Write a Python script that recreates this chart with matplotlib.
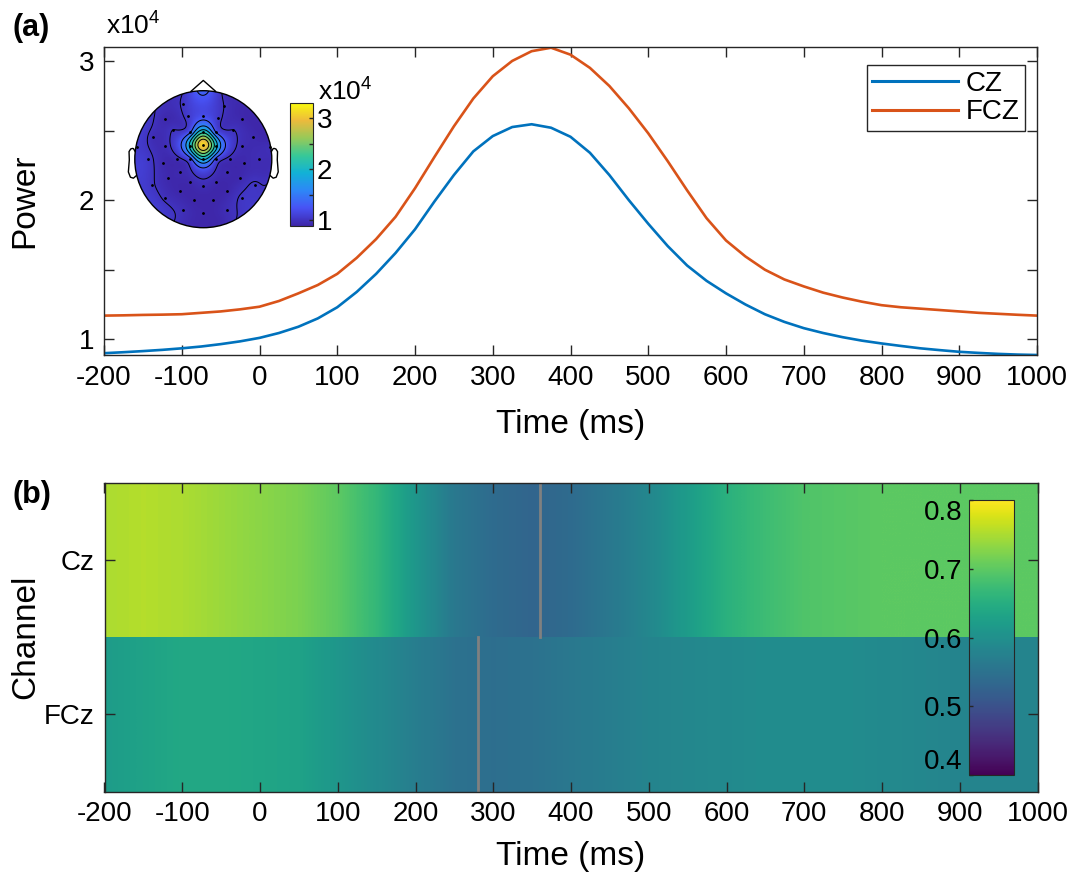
import numpy as np
import matplotlib
matplotlib.use('Agg')
import matplotlib.pyplot as plt
from matplotlib.colors import LinearSegmentedColormap
from matplotlib.patches import Circle

plt.rcParams['font.family'] = ['Liberation Sans', 'DejaVu Sans']
plt.rcParams['mathtext.default'] = 'regular'
plt.rcParams['axes.unicode_minus'] = False

# Data ==================================================
# (a) power time course, x1e4
power_t = list(range(-200, 1001, 25))
power_cz = [0.900, 0.907, 0.915, 0.924, 0.935, 0.948, 0.965, 0.985, 1.01, 1.045,
            1.09, 1.15, 1.23, 1.34, 1.47, 1.62, 1.79, 1.99, 2.18, 2.35,
            2.46, 2.525, 2.545, 2.52, 2.455, 2.34, 2.18, 2.00, 1.83, 1.67,
            1.53, 1.42, 1.33, 1.25, 1.18, 1.125, 1.08, 1.045, 1.015, 0.99,
            0.97, 0.952, 0.935, 0.922, 0.91, 0.902, 0.895, 0.89, 0.887]
power_fcz = [1.17, 1.172, 1.175, 1.177, 1.18, 1.19, 1.20, 1.215, 1.234, 1.275,
             1.33, 1.39, 1.47, 1.585, 1.72, 1.88, 2.085, 2.31, 2.53, 2.73,
             2.89, 3.00, 3.07, 3.095, 3.045, 2.95, 2.82, 2.66, 2.48, 2.28,
             2.07, 1.87, 1.71, 1.595, 1.50, 1.43, 1.38, 1.335, 1.30, 1.27,
             1.245, 1.23, 1.22, 1.21, 1.20, 1.19, 1.183, 1.176, 1.17]

# topography (electrode positions on unit head, power x1e4)
elec_x = [-0.30, 0.30,
          -0.56, -0.23, 0.00, 0.22, 0.57,
          -0.73, -0.44, -0.19, 0.00, 0.19, 0.44, 0.73,
          -0.97, -0.56, -0.19, 0.00, 0.19, 0.57, 0.97,
          -0.80, -0.59, -0.38, -0.19, 0.00, 0.19, 0.39, 0.59, 0.81,
          -0.51, -0.34, 0.34, 0.53,
          -0.75, -0.19, 0.00, 0.19, 0.75,
          -0.56, -0.34, -0.14, 0.14, 0.35, 0.56,
          -0.29, 0.00, 0.35]
elec_y = [0.80, 0.77,
          0.59, 0.63, 0.63, 0.60, 0.59,
          0.33, 0.43, 0.40, 0.40, 0.40, 0.43, 0.33,
          0.18, 0.19, 0.20, 0.21, 0.20, 0.19, 0.18,
          0.01, -0.05, 0.01, 0.00, 0.00, 0.00, 0.01, -0.05, 0.01,
          -0.28, -0.18, -0.18, -0.28,
          -0.38, -0.34, -0.39, -0.34, -0.38,
          -0.57, -0.47, -0.59, -0.59, -0.47, -0.57,
          -0.74, -0.79, -0.74]
elec_val = [1.02, 1.00,
            0.92, 1.05, 1.20, 1.05, 0.92,
            0.95, 1.00, 1.25, 2.10, 1.25, 1.00, 0.93,
            1.05, 0.95, 2.00, 3.15, 2.00, 0.95, 0.96,
            1.04, 0.93, 0.96, 1.20, 1.95, 1.20, 0.96, 0.92, 0.95,
            0.92, 0.93, 0.93, 0.92,
            1.02, 0.92, 0.95, 0.92, 1.02,
            0.98, 0.91, 0.90, 0.90, 0.91, 1.02,
            0.96, 0.91, 0.96]
# values at the head rim (degrees, 0 = right, 90 = nose)
rim_deg = list(range(0, 360, 15))
rim_val = [0.97, 0.93, 0.92, 0.92, 0.94, 1.00, 1.40, 1.02, 0.95, 1.00, 1.06, 1.06,
           1.06, 1.06, 1.06, 1.08, 1.03, 0.93, 0.91, 0.93, 1.03, 1.08, 1.04, 1.00]
topo_levels = [1.0, 1.3, 1.6, 1.9, 2.2, 2.5, 2.8]

# (b) inter-trial values per channel
hm_t = [-200, -150, -100, -50, 0, 50, 100, 150, 200, 250, 300, 350, 400, 450,
        500, 550, 600, 650, 700, 750, 800, 850, 900, 950, 1000]
cz_val = [0.75, 0.755, 0.75, 0.74, 0.73, 0.72, 0.70, 0.665, 0.61, 0.56, 0.54, 0.53,
          0.54, 0.56, 0.585, 0.62, 0.655, 0.675, 0.69, 0.695, 0.70, 0.70, 0.70, 0.70, 0.70]
fcz_val = [0.62, 0.63, 0.64, 0.64, 0.635, 0.63, 0.61, 0.59, 0.57, 0.55, 0.545, 0.55,
           0.56, 0.57, 0.58, 0.585, 0.59, 0.595, 0.595, 0.595, 0.59, 0.585, 0.58, 0.58, 0.58]
peak_t = {'Cz': 360, 'FCz': 280}
channels = ['Cz', 'FCz']

# Styles ================================================
blue = '#0072BD'
orange = '#D95319'
axcol = '#262626'
parula = LinearSegmentedColormap.from_list('parula', [
    (0.2422, 0.1504, 0.6603), (0.2810, 0.3228, 0.9578), (0.1786, 0.5289, 0.9682),
    (0.0689, 0.6948, 0.8394), (0.2161, 0.7843, 0.5923), (0.5939, 0.7877, 0.3458),
    (0.9300, 0.7299, 0.2342), (0.9763, 0.9831, 0.0538)])

W, H = 1084, 882
fig = plt.figure(figsize=(W / 100, H / 100), dpi=100)


def px_axes(x0, y0, x1, y1):
    # axes from pixel box (top-left origin)
    return fig.add_axes([x0 / W, 1 - y1 / H, (x1 - x0) / W, (y1 - y0) / H])


def matlab_ticks(ax):
    ax.tick_params(which='both', direction='in', top=True, right=True, length=7.5,
                   width=1, color=axcol, labelsize=20, pad=7)
    for s in ax.spines.values():
        s.set_color(axcol)
        s.set_linewidth(1)


def green(d):
    # biharmonic spline kernel (like griddata 'v4')
    out = np.zeros_like(d)
    nz = d > 0
    out[nz] = d[nz] ** 2 * (np.log(d[nz]) - 1)
    return out


def v4_grid(px, py, pv, qx, qy):
    d = np.hypot(px[:, None] - px[None, :], py[:, None] - py[None, :])
    w = np.linalg.solve(green(d), pv)
    dq = np.hypot(qx.ravel()[:, None] - px[None, :], qy.ravel()[:, None] - py[None, :])
    return (green(dq) @ w).reshape(qx.shape)


# Panel (a) =============================================
ax = px_axes(104, 47.3, 1037, 355)
ax.plot(power_t, power_cz, color=blue, lw=1.9, label='CZ')
ax.plot(power_t, power_fcz, color=orange, lw=1.9, label='FCZ')
ax.set_xlim(-200, 1000)
ax.set_ylim(0.887, 3.098)
ax.set_xticks(range(-200, 1001, 100))
ax.set_yticks([1, 2, 3])
ax.set_yticks([1.5, 2.5], minor=True)
ax.tick_params(axis='x', which='minor', bottom=False, top=False)
matlab_ticks(ax)
ax.set_xlabel('Time (ms)', fontsize=24)
ax.set_ylabel('Power', fontsize=24)
ax.xaxis.set_label_coords(0.5, -0.175)
ax.yaxis.set_label_coords(-0.068, 0.5)
leg = ax.legend(loc='upper right', bbox_to_anchor=(0.987, 0.942), borderaxespad=0,
                fontsize=20, handlelength=3.1, handletextpad=0.25, labelspacing=0.1,
                borderpad=0.2, fancybox=False, framealpha=1)
leg.get_frame().set_edgecolor(axcol)
leg.get_frame().set_linewidth(1)
for ln in leg.get_lines():
    ln.set_linewidth(2.2)

fig.text(13 / W, 1 - 28 / H, '(a)', fontsize=22, fontweight='bold', va='center')
fig.text(106 / W, 1 - 35 / H, 'x10$^4$', fontsize=19, va='baseline')

# topography inset
axh = px_axes(120, 75, 287, 233)
axh.set_xlim(-1.216, 1.222)
axh.set_ylim(-1.077, 1.229)
axh.axis('off')
rim_r = np.radians(rim_deg)
all_x = np.concatenate([elec_x, 1.05 * np.cos(rim_r)])
all_y = np.concatenate([elec_y, 1.05 * np.sin(rim_r)])
all_v = np.concatenate([elec_val, rim_val])
gx, gy = np.meshgrid(np.linspace(-1.02, 1.02, 161), np.linspace(-1.02, 1.02, 161))
gz = v4_grid(all_x, all_y, all_v, gx, gy)
head = Circle((0, 0), 1.0, transform=axh.transData)
img = axh.imshow(gz, extent=(-1.02, 1.02, -1.02, 1.02), origin='lower', cmap=parula,
                 vmin=0.89, vmax=3.31, interpolation='bilinear')
img.set_clip_path(head)
cs = axh.contour(gx, gy, gz, levels=topo_levels, colors='k', linewidths=0.7)
cs.set_clip_path(head)
axh.add_patch(Circle((0, 0), 1.0, facecolor='none', edgecolor='k', lw=1))
axh.plot(elec_x, elec_y, 'k.', ms=2)
nose_x = [0.18, 0, -0.18]
nose_y = [0.991, 1.15, 0.991]
axh.plot(nose_x, nose_y, color='k', lw=1)
ear_x = np.array([.994, 1.02, 1.036, 1.06, 1.084, 1.08, 1.094, 1.064, 1.02, 0.978])
ear_y = np.array([0.111, 0.155, 0.157, 0.149, 0.111, -0.011, -0.186, -0.263, -0.277, -0.240])
axh.plot(ear_x, ear_y, color='k', lw=1)
axh.plot(-ear_x, ear_y, color='k', lw=1)

cax1 = px_axes(290, 102.7, 312.7, 225.7)
cb1 = fig.colorbar(img, cax=cax1)
cb1.set_ticks([1, 2, 3])
cax1.set_yticks([1.5, 2.5], minor=True)
cax1.tick_params(which='both', direction='in', length=3, width=1, color=axcol,
                 labelsize=20, pad=3)
cb1.outline.set_edgecolor(axcol)
fig.text(318 / W, 1 - 101 / H, 'x10$^4$', fontsize=19, va='baseline')

# Panel (b) =============================================
axb = px_axes(104.5, 482.7, 1037.5, 791.7)
step = (hm_t[1] - hm_t[0]) / 2
for i, vals in enumerate([cz_val, fcz_val]):
    im = axb.imshow([vals], extent=(hm_t[0] - step, hm_t[-1] + step, i + 1.5, i + 0.5),
                    aspect='auto', cmap='viridis', vmin=0.4, vmax=0.8,
                    interpolation='bilinear')
    axb.plot([peak_t[channels[i]]] * 2, [i + 0.5, i + 1.5], color='#808080', lw=2)
axb.set_xlim(-200, 1000)
axb.set_ylim(2.5, 0.5)
axb.set_xticks(range(-200, 1001, 100))
axb.set_yticks([1, 2])
axb.set_yticklabels(channels)
matlab_ticks(axb)
axb.set_xlabel('Time (ms)', fontsize=24)
axb.set_ylabel('Channel', fontsize=24)
axb.xaxis.set_label_coords(0.5, -0.158)
axb.yaxis.set_label_coords(-0.068, 0.5)
fig.text(13 / W, 1 - 495 / H, '(b)', fontsize=22, fontweight='bold', va='center')

cax2 = px_axes(969, 500, 1014.3, 775)
cb2 = fig.colorbar(im, cax=cax2)
cb2.set_ticks([0.4, 0.5, 0.6, 0.7, 0.8])
cax2.yaxis.set_ticks_position('left')
cax2.tick_params(direction='in', length=3, width=1, color=axcol, labelsize=20, pad=5)
cb2.outline.set_edgecolor(axcol)
labs = cax2.get_yticklabels()
labs[0].set_va('bottom')
labs[-1].set_va('top')

fig.savefig('out.png', dpi=100)
